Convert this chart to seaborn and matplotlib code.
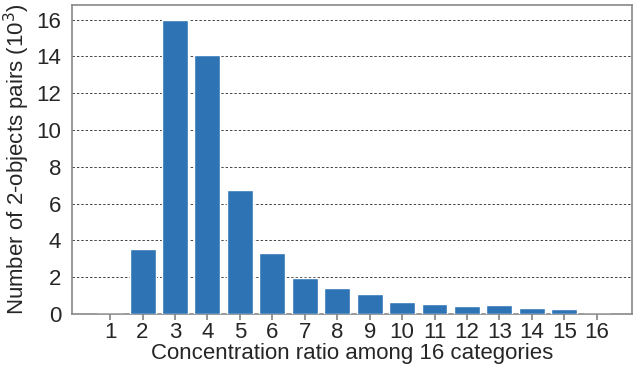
import matplotlib
matplotlib.use("Agg")
import matplotlib.pyplot as plt
import seaborn as sns
import pandas as pd

categories = [str(i) for i in range(1, 17)]
values = [0, 3.55, 16.0, 14.06, 6.76, 3.32, 1.98, 1.40, 1.07, 0.67, 0.53, 0.42, 0.47, 0.34, 0.29, 0]

sns.set_theme(style="white")
plt.rcParams['font.family'] = ['Liberation Sans', 'DejaVu Sans']

df = pd.DataFrame({"cat": categories, "val": values})
fig = plt.figure(figsize=(6.33, 3.76), dpi=100)
ax = fig.add_axes([0.114, 0.165, 0.884, 0.822])
sns.barplot(data=df, x="cat", y="val", color="#2e74b5", saturation=1, width=0.8, ax=ax, zorder=3)
ax.set_ylim(0, 16.8)
ax.set_xlim(-1.17, 16.08)
ax.set_yticks(range(0, 17, 2))
ax.yaxis.grid(True, linestyle=(0, (2.5, 2)), color="#444444", linewidth=0.7, zorder=0)
ax.set_axisbelow(True)
for s in ax.spines.values():
    s.set_color("#888888")
    s.set_linewidth(1.2)
ax.tick_params(axis="x", bottom=True, length=4, color="#888888", labelsize=16, pad=2)
ax.tick_params(axis="y", left=False, labelsize=16, pad=2)
ax.set_xlabel("Concentration ratio among 16 categories", fontsize=16, labelpad=0)
ax.set_ylabel("Number of 2-objects pairs (10$^3$)", fontsize=16, labelpad=3)
fig.savefig("out.png", dpi=100)
